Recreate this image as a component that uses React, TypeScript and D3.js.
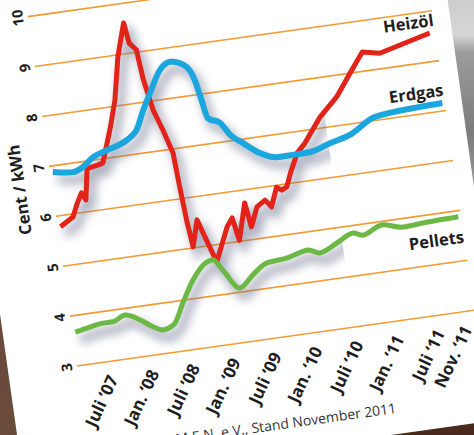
import React from 'react';
import * as d3 from 'd3';

// months since July 2007
const oilMonths = [-4.5,-2.5,-1.6,-0.8,-0.3,0.5,2.1,2.9,4.7,5.9,7.2,8.7,9.1,10.0,10.4,11.2,12.2,13.2,13.5,13.8,14.2,15.3,16.1,17.3,19.5,20.4,21.0,22.5,23.0,24.2,25.5,26.3,27.4,28.1,28.9,29.7,31.1,32.4,35.1,37.9,40.3,42.5,45.0,52.6];
const oilValues = [5.78,5.94,6.2,6.39,6.24,6.85,6.89,6.92,7.6,8.12,8.96,9.61,9.2,9.05,8.45,7.82,7.4,6.92,6.17,5.56,5.02,5.54,5.18,4.66,5.32,5.48,5.02,5.74,5.25,5.63,5.74,5.59,5.96,5.89,5.94,6.2,6.58,6.75,7.22,7.57,8.0,8.38,8.31,8.57];

const gasMonths = [-4.5,-1.6,-0.1,1.6,3.8,6.8,8.4,9.8,11.1,13.0,14.6,15.1,16.9,17.8,18.3,18.9,20.6,21.8,23.5,25.7,28.1,30.4,33.0,36.0,39.1,42.7,45.2,53.0];
const gasValues = [6.88,6.82,6.89,7.06,7.16,7.3,7.47,7.85,8.16,8.59,8.72,8.71,8.57,8.29,7.94,7.51,7.38,7.12,6.92,6.68,6.55,6.55,6.56,6.68,6.79,7.06,7.11,7.16];

const pelletMonths = [-4.5,-2.3,-0.3,1.1,3.0,5.1,6.8,8.2,9.8,11.6,13.5,15.8,16.8,18.0,20.1,22.2,24.5,27.4,30.7,32.3,35.0,37.5,38.9,41.8,44.8,48.3,53.0];
const pelletValues = [3.67,3.73,3.77,3.77,3.87,3.73,3.56,3.47,3.54,3.95,4.37,4.68,4.71,4.48,4.08,4.3,4.5,4.54,4.64,4.55,4.7,4.85,4.78,4.93,4.83,4.86,4.88];

const yTicks = [3, 4, 5, 6, 7, 8, 9, 10];
const xTickMonths = [0, 6, 12, 18, 24, 30, 36, 42, 48, 52];
const xTickLabels = ["Juli \u201807", "Jan. \u201808", "Juli \u201808", "Jan. \u201809", "Juli \u201809", "Jan. \u201810", "Juli \u201810", "Jan. \u201811", "Juli \u201811", "Nov. \u201811"];

const seriesNames = ["Heizöl", "Erdgas", "Pellets"];
const yAxisTitle = "Cent / kWh";
const sourceText = "Quelle: C.A.R.M.E.N. e.V., Stand November 2011";

const FONT = "'Open Sans', 'DejaVu Sans', sans-serif";

export default function App() {
  const W = 474, H = 435;
  const x = d3.scaleLinear().domain([0, 52]).range([34, 391.5]);
  const y = d3.scaleLinear().domain([3, 10]).range([0, -352.8]);
  const mk = (ms: number[], vs: number[]) => ms.map((m, i) => [m, vs[i]] as [number, number]);
  const oil = mk(oilMonths, oilValues);
  const gas = mk(gasMonths, gasValues);
  const pel = mk(pelletMonths, pelletValues);
  const lin = d3.line<[number, number]>().x(d => x(d[0])).y(d => y(d[1]));
  const smooth = d3.line<[number, number]>().x(d => x(d[0])).y(d => y(d[1])).curve(d3.curveMonotoneX);

  const series = [
    { name: seriesNames[0], data: oil, color: '#e2231a', w: 5, path: lin(oil), dy: -6.5 },
    { name: seriesNames[1], data: gas, color: '#1ca6de', w: 6, path: smooth(gas), dy: -7 },
    { name: seriesNames[2], data: pel, color: '#6cb844', w: 5, path: smooth(pel), dy: 26.5 },
  ];

  return (
    <svg width={W} height={H} style={{ position: 'absolute', left: 0, top: 0, display: 'block' }}>
      <defs>
        <linearGradient id="photo" x1="0" y1="0" x2="0" y2="1">
          <stop offset="0" stopColor="#cdcdcd" />
          <stop offset="0.08" stopColor="#d6d6d6" />
          <stop offset="0.12" stopColor="#9c9c9c" />
          <stop offset="0.3" stopColor="#7c7c7c" />
          <stop offset="0.45" stopColor="#9a9a9a" />
          <stop offset="0.6" stopColor="#6e6e6e" />
          <stop offset="1" stopColor="#5a4a40" />
        </linearGradient>
        <linearGradient id="wood" x1="0" y1="0" x2="1" y2="0">
          <stop offset="0" stopColor="#5e3f30" />
          <stop offset="0.5" stopColor="#7b5a48" />
          <stop offset="1" stopColor="#6a4a3a" />
        </linearGradient>
        <filter id="blur" x="-20%" y="-20%" width="140%" height="140%">
          <feGaussianBlur stdDeviation="5" />
        </filter>
        <clipPath id="shadowClip">
          <rect x={-20} y={-400} width={300} height={420} />
        </clipPath>
      </defs>
      <rect x={0} y={0} width={W} height={H} fill="url(#photo)" />
      <g transform="translate(77,366) rotate(-8)">
        <rect x={-400} y={-1000} width={331} height={2000} fill="url(#wood)" />
        <rect x={-400} y={112} width={1200} height={300} fill="#4a2a1d" />
        <rect x={-69} y={-1000} width={487} height={1112} fill="#ffffff" />

        {/* gridlines */}
        {yTicks.map(t => (
          <line key={t} x1={0} x2={401} y1={y(t)} y2={y(t)} stroke="#f39a33" strokeWidth={1.6} />
        ))}
        {/* y tick labels */}
        {yTicks.map(t => (
          <text key={'l' + t} transform={`translate(-10.5,${y(t)}) rotate(-90)`} textAnchor="middle"
            dominantBaseline="central" fontFamily={FONT} fontWeight={700} fontSize={14.5} fill="#1e1e1e">{t}</text>
        ))}
        <text transform={`translate(-33,${y(6.62)}) rotate(-90)`} textAnchor="middle" dominantBaseline="central"
          fontFamily={FONT} fontWeight={700} fontSize={16.5} fill="#1e1e1e">{yAxisTitle}</text>

        {/* shadows */}
        <g clipPath="url(#shadowClip)">
          <g transform="translate(4,8)" filter="url(#blur)" opacity={0.55}>
            {series.map(s => (
              <path key={'sh' + s.name} d={s.path || ''} fill="none" stroke="#6f7590" strokeWidth={9} strokeLinejoin="round" />
            ))}
          </g>
        </g>

        {/* lines */}
        {series.map(s => (
          <path key={s.name} d={s.path || ''} fill="none" stroke={s.color} strokeWidth={s.w} strokeLinejoin="round" strokeLinecap="butt" />
        ))}

        {/* series labels */}
        {series.map(s => {
          const last = s.data[s.data.length - 1];
          return (
            <text key={'n' + s.name} x={401} y={y(last[1]) + s.dy} textAnchor="end" fontFamily={FONT}
              fontWeight={700} fontSize={16.5} fill="#1e1e1e">{s.name}</text>
          );
        })}

        {/* x tick labels */}
        {xTickMonths.map((m, i) => (
          <text key={'x' + m} transform={`translate(${x(m)},15) rotate(-57)`} textAnchor="end" dominantBaseline="central"
            fontFamily={FONT} fontWeight={700} fontSize={17} fill="#1e1e1e">{xTickLabels[i]}</text>
        ))}

        <text x={310} y={91} textAnchor="end" fontFamily={FONT} fontSize={14} fill="#333">{sourceText}</text>
      </g>
    </svg>
  );
}
